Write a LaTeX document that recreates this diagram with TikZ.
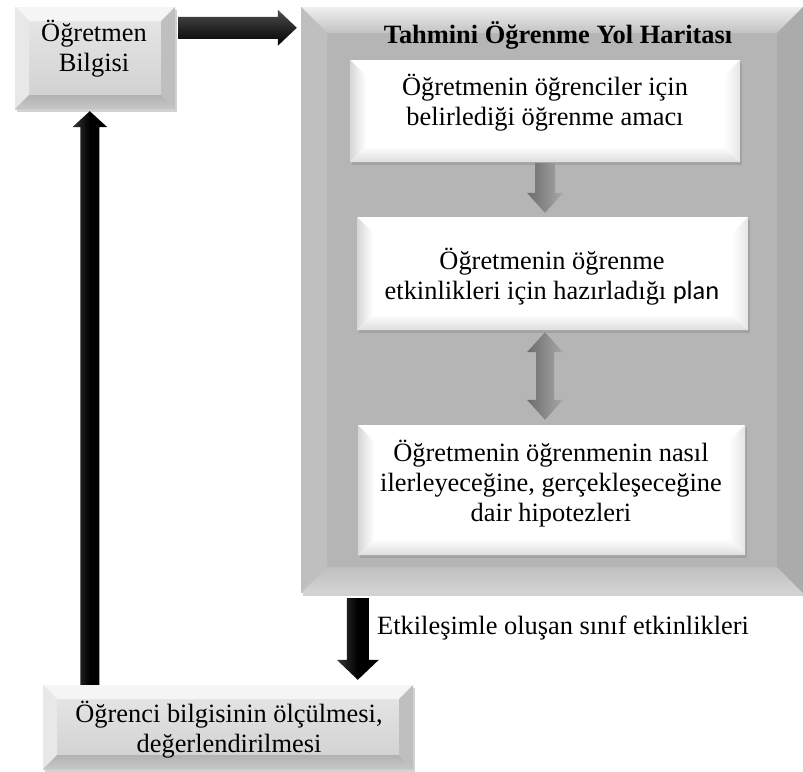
\documentclass[tikz,border=0pt]{standalone}
\usepackage{fontspec}
\setmainfont{Liberation Serif}
\newfontfamily\plansans{Carlito}
\usetikzlibrary{calc,shadows}

% bevelled rectangle: inset, then top, left, bottom and right faces
\tikzset{
  bevel/.style n args={5}{
    path picture={
      \coordinate (bvnw) at (path picture bounding box.north west);
      \coordinate (bvne) at (path picture bounding box.north east);
      \coordinate (bvse) at (path picture bounding box.south east);
      \coordinate (bvsw) at (path picture bounding box.south west);
      \path[#2] (bvnw) -- (bvne) -- ([shift={(-#1pt,-#1pt)}]bvne) -- ([shift={(#1pt,-#1pt)}]bvnw) -- cycle;
      \path[#3] (bvnw) -- ([shift={(#1pt,-#1pt)}]bvnw) -- ([shift={(#1pt,#1pt)}]bvsw) -- (bvsw) -- cycle;
      \path[#4] (bvsw) -- ([shift={(#1pt,#1pt)}]bvsw) -- ([shift={(-#1pt,#1pt)}]bvse) -- (bvse) -- cycle;
      \path[#5] (bvne) -- (bvse) -- ([shift={(-#1pt,#1pt)}]bvse) -- ([shift={(-#1pt,-#1pt)}]bvne) -- cycle;
    }
  },
  boxshadow/.style={drop shadow={shadow xshift=1.5pt, shadow yshift=-3pt, opacity=0.35}},
  greybox/.style={rectangle, inner sep=0pt, boxshadow,
    top color=black!9, bottom color=black!19,
    bevel={14}{fill=black!4}{fill=black!9}{top color=black!30, bottom color=black!22}{fill=black!25}},
  roadbox/.style={rectangle, inner sep=0pt, boxshadow, fill=black!29,
    bevel={26}{top color=black!6, bottom color=black!24}{fill=black!25}{top color=black!25, bottom color=black!17}{fill=black!33}},
  whitebox/.style={rectangle, inner sep=0pt, boxshadow, fill=white,
    bevel={16}{fill=white}{left color=black!16, right color=white}{top color=white, bottom color=black!13}{left color=white, right color=black!10}},
  txt/.style={font=\fontsize{26.4}{30}\selectfont, align=center, inner sep=0pt},
  headline/.style={font=\bfseries\fontsize{26.4}{30}\selectfont, inner sep=0pt},
  blackvarrow/.style={left color=black!78, right color=black, middle color=black},
  blackharrow/.style={top color=black!70, bottom color=black},
  greyvarrow/.style={left color=black!58, right color=black!34},
}

% vertical block arrow: style, tail, tip, half shaft, half head, head length, direction (1 down, -1 up)
\newcommand\vshaft[7]{%
  \path[#1] let \p1=(#2), \p2=(#3), \n1={#7*#6} in
    ({\x1-#4pt},\y1) -- ({\x1-#4pt},{\y2+\n1}) -- ({\x1-#5pt},{\y2+\n1}) -- (\x1,\y2)
    -- ({\x1+#5pt},{\y2+\n1}) -- ({\x1+#4pt},{\y2+\n1}) -- ({\x1+#4pt},\y1) -- cycle;}
% rightward block arrow: style, tail, tip, half shaft, half head, head length
\newcommand\hshaft[6]{%
  \path[#1] let \p1=(#2), \p2=(#3) in
    (\x1,{\y1+#4pt}) -- ({\x2-#6pt},{\y1+#4pt}) -- ({\x2-#6pt},{\y1+#5pt}) -- (\x2,\y1)
    -- ({\x2-#6pt},{\y1-#5pt}) -- ({\x2-#6pt},{\y1-#4pt}) -- (\x1,{\y1-#4pt}) -- cycle;}
% two-headed vertical block arrow: style, upper tip, lower tip, half shaft, half head, head length
\newcommand\dvshaft[6]{%
  \path[#1] let \p1=(#2), \p2=(#3) in
    (\x1,\y1) -- ({\x1+#5pt},{\y1-#6pt}) -- ({\x1+#4pt},{\y1-#6pt}) -- ({\x1+#4pt},{\y2+#6pt})
    -- ({\x1+#5pt},{\y2+#6pt}) -- (\x1,\y2) -- ({\x1-#5pt},{\y2+#6pt}) -- ({\x1-#4pt},{\y2+#6pt})
    -- ({\x1-#4pt},{\y1-#6pt}) -- ({\x1-#5pt},{\y1-#6pt}) -- cycle;}

\begin{document}
\begin{tikzpicture}[x=1pt,y=-1pt]
\useasboundingbox (0,0) rectangle (803,771);
\fill[white] (0,0) rectangle (803,771);

% boxes
\node[greybox, minimum width=160pt, minimum height=102pt] (teacher) at (95,58) {};
\node[roadbox, minimum width=502pt, minimum height=586pt] (roadmap) at (552,300) {};
\node[whitebox, minimum width=390pt, minimum height=102pt] (goal) at (545,111) {};
\node[whitebox, minimum width=391pt, minimum height=113pt] (plan) at (552.5,273.5) {};
\node[whitebox, minimum width=387pt, minimum height=130pt] (hyp) at (551.5,490) {};
\node[greybox, minimum width=370pt, minimum height=84pt] (assess) at (228,727) {};

% texts
\node[txt] (teachertext) at (94,49) {Öğretmen\\Bilgisi};
\node[headline] (roadtitle) at (558,35) {Tahmini Öğrenme Yol Haritası};
\node[txt] (goaltext) at (545,103) {Öğretmenin öğrenciler için\\belirlediği öğrenme amacı};
\node[txt] (plantext) at (552,277) {Öğretmenin öğrenme\\etkinlikleri için hazırladığı {\plansans plan}};
\node[txt] (hyptext) at (551,484) {Öğretmenin öğrenmenin nasıl\\ilerleyeceğine, gerçekleşeceğine\\dair hipotezleri};
\node[txt] (assesstext) at (229,730) {Öğrenci bilgisinin ölçülmesi,\\değerlendirilmesi};
\node[txt, anchor=west] (flowlabel) at (377,628) {Etkileşimle oluşan sınıf etkinlikleri};

% arrow end points
\coordinate (tA) at ($(teacher.north east)+(3,21)$);
\coordinate (tB) at ($(roadmap.north west)+(-4,21)$);
\coordinate (uA) at ($(assess.north west)+(47,0)$);
\coordinate (uB) at ($(teacher.south west)+(75,2)$);
\coordinate (gA) at ($(goal.south)+(0,1)$);
\coordinate (gB) at ($(plan.north)+(0,-4)$);
\coordinate (pA) at ($(plan.south)+(-7.5,2)$);
\coordinate (pB) at ($(hyp.north)+(0,-5)$);
\coordinate (rA) at ($(roadmap.south west)+(57,5)$);
\coordinate (rB) at ($(assess.north west)+(315,-5)$);

% arrows
\hshaft{blackharrow}{tA}{tB}{11}{18}{19}
\vshaft{blackvarrow}{uA}{uB}{9.5}{17.5}{16}{-1}
\vshaft{greyvarrow}{gA}{gB}{10}{18}{20}{1}
\dvshaft{greyvarrow}{pA}{pB}{9}{18}{20}
\vshaft{blackvarrow}{rA}{rB}{11}{21}{20}{1}
\end{tikzpicture}
\end{document}
